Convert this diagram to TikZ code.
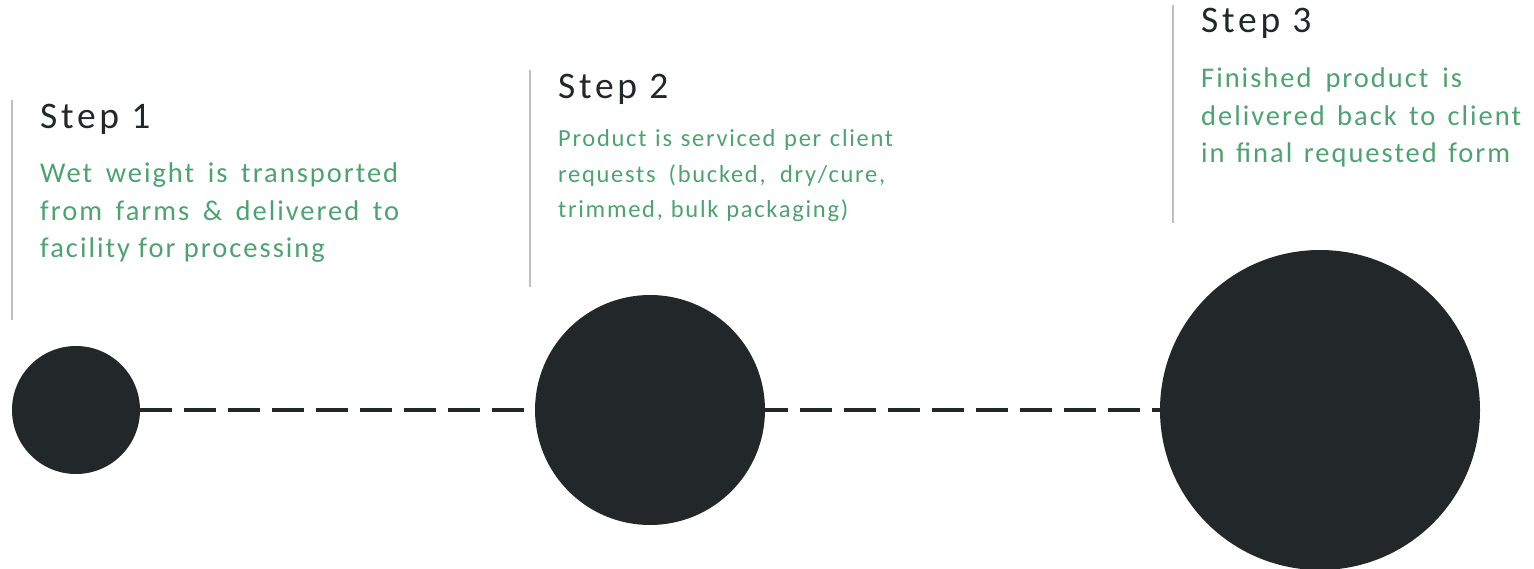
\documentclass[tikz,border=0pt]{standalone}
\usepackage{fontspec}
\usetikzlibrary{backgrounds}
\setmainfont{Carlito}[LetterSpace=7]
\newfontfamily\headfont{Carlito}[LetterSpace=10]
\definecolor{dark}{HTML}{222829}
\definecolor{leaf}{HTML}{4DA370}
\definecolor{rule}{HTML}{BFBFBF}
\begin{document}
\begin{tikzpicture}[x=1pt,y=-1pt,
  head/.style={anchor=base west,inner sep=0pt,text=dark,font=\headfont\fontsize{37.5}{40}\selectfont},
  body/.style={anchor=base west,inner sep=0pt,text=leaf,font=\fontsize{28.5}{32}\selectfont},
  bodys/.style={anchor=base west,inner sep=0pt,text=leaf,font=\fontsize{24.5}{30}\selectfont},
  dot/.style={circle,fill=dark,draw=none,inner sep=0pt},
  link/.style={draw=dark,line width=4pt,dash pattern=on 32pt off 12pt},
  bar/.style={draw=rule,line width=1.5pt}]
\useasboundingbox (0,0) rectangle (1534,569);
% vertical rules
\draw[bar] (12,100) -- (12,320);
\draw[bar] (530,70) -- (530,287);
\draw[bar] (1173,5) -- (1173,223);
% step 1
\node[head] (h1) at (40,129) {Step 1};
\node[body] (t1a) at (40,183) {\makebox[358pt][s]{Wet weight is transported}};
\node[body] (t1b) at (40,221) {\makebox[359pt][s]{from farms \& delivered to}};
\node[body] (t1c) at (40,258) {facility for processing};
% step 2
\node[head] (h2) at (558,99) {Step 2};
\node[bodys] (t2a) at (558,147) {\makebox[335pt][s]{Product is serviced per client}};
\node[bodys] (t2b) at (558,183) {\makebox[327pt][s]{requests (bucked, dry/cure,}};
\node[bodys] (t2c) at (558,218) {\makebox[290pt][s]{trimmed, bulk packaging)}};
% step 3
\node[head] (h3) at (1201,33) {Step 3};
\node[body] (t3a) at (1201,88) {\makebox[261pt][s]{Finished product is}};
\node[body] (t3b) at (1201,126) {\makebox[320pt][s]{delivered back to client}};
\node[body] (t3c) at (1201,163) {\makebox[309pt][s]{in final requested form}};
% circles
\node[dot,minimum size=128pt] (c1) at (76,410) {};
\node[dot,minimum size=230pt] (c2) at (650,410) {};
\node[dot,minimum size=320pt] (c3) at (1320,410) {};
\begin{scope}[on background layer]
\draw[link] (c1.east) -- (c3.west);
\end{scope}
\end{tikzpicture}
\end{document}
